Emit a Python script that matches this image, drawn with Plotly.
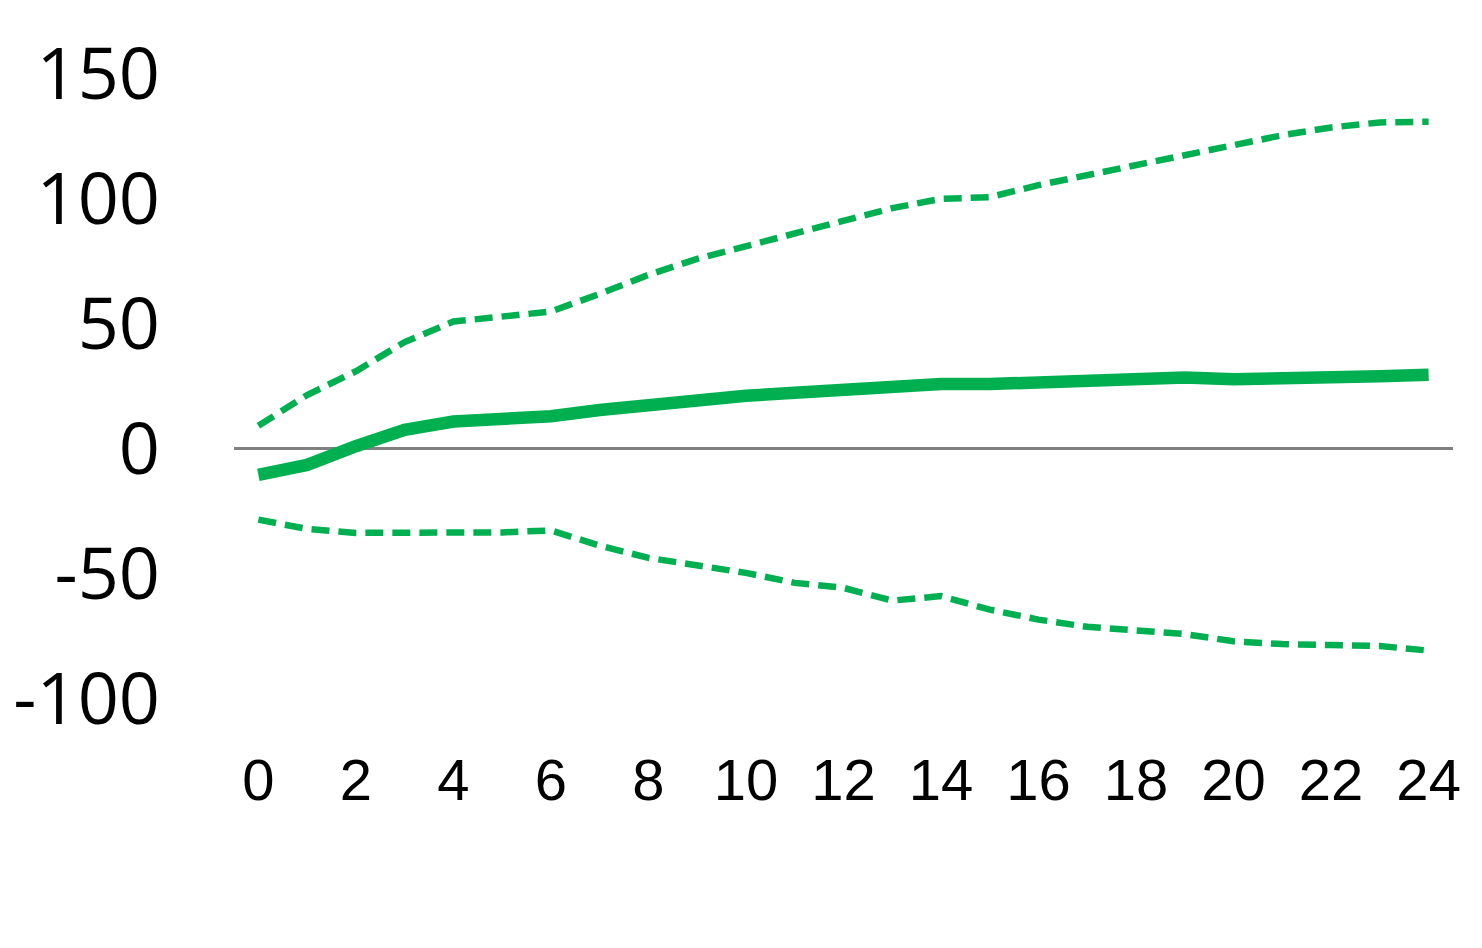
import plotly.graph_objects as go

periods = list(range(25))
central = [-10.5, -6.5, 1, 7.6, 10.9, 11.8, 13, 15.5, 17.8, 19.5, 21.2, 22.4, 23.6, 25.2, 25.9,
           25.9, 26.5, 27.2, 27.8, 28.5, 27.8, 27.8, 28.3, 29, 29.6]
upper = [9.2, 21.5, 31, 42.7, 50.9, 52.6, 54.9, 62, 69.6, 76, 81.2, 86.3, 91.2, 96.3, 100,
         100.7, 105.5, 109.4, 113.7, 117.4, 121.4, 125.5, 128.6, 130.6, 130.9]
lower = [-28.4, -32.1, -33.7, -33.7, -33.3, -33.5, -32.7, -38.8, -43.7, -47, -49.7, -53.7, -55.7,
         -60.8, -59, -64.4, -68.4, -71.3, -72.8, -74.2, -77.1, -78.2, -78.6, -79, -80.8]
y_ticks = [-100, -50, 0, 50, 100, 150]
x_ticks = list(range(0, 25, 2))

GREEN = "#00B050"

fig = go.Figure()
fig.add_trace(go.Scatter(x=periods, y=upper, mode="lines",
                         line=dict(color=GREEN, width=6.5, dash="18px,9px")))
fig.add_trace(go.Scatter(x=periods, y=lower, mode="lines",
                         line=dict(color=GREEN, width=6.5, dash="18px,9px")))
fig.add_trace(go.Scatter(x=periods, y=central, mode="lines",
                         line=dict(color=GREEN, width=12.5)))

fig.update_layout(
    width=1466, height=932,
    margin=dict(l=226, r=21, t=41, b=198.5),
    paper_bgcolor="white", plot_bgcolor="white",
    showlegend=False,
    xaxis=dict(range=[-0.5, 24.5], tickvals=x_ticks, ticktext=[str(v) for v in x_ticks],
               showgrid=False, zeroline=False, showline=False, ticks="", automargin=False,
               tickfont=dict(family="Liberation Sans Narrow, Arial Narrow, sans-serif", size=58, color="black")),
    yaxis=dict(range=[-117, 160], tickvals=y_ticks, ticktext=[str(v) for v in y_ticks],
               showgrid=False, zeroline=True, zerolinecolor="#808080", zerolinewidth=2.5,
               showline=False, ticks="", ticklabelstandoff=73, automargin=False,
               tickfont=dict(family="Open Sans, sans-serif", size=72, color="black")),
)

fig.write_html("out.html")
